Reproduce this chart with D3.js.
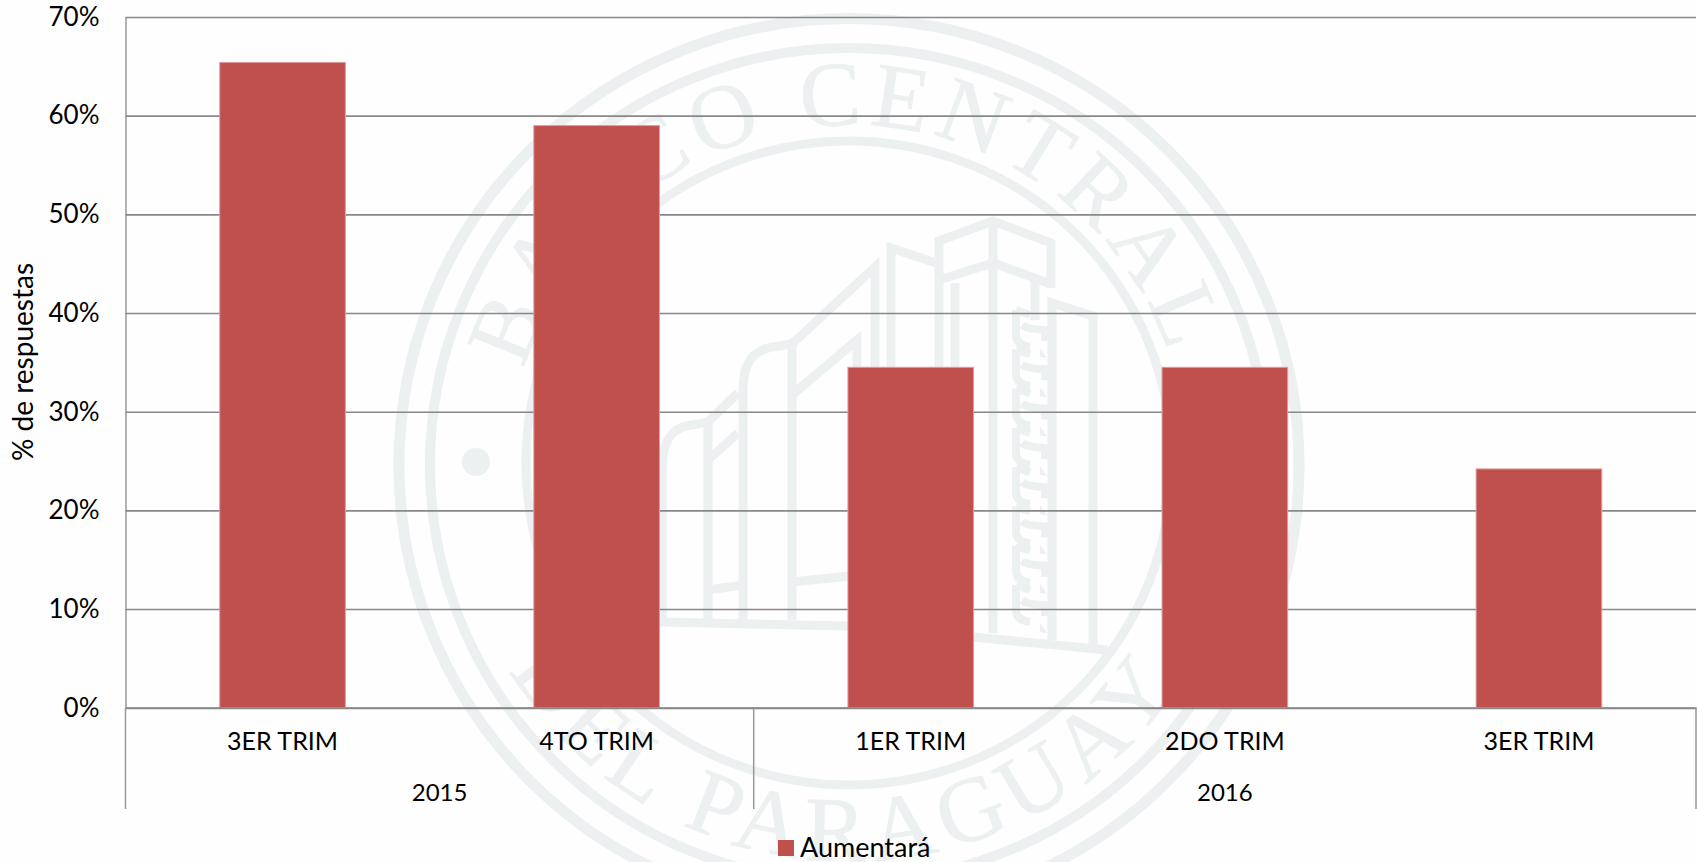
<!DOCTYPE html>
<html>
<head>
<meta charset="utf-8">
<script src="https://cdn.jsdelivr.net/npm/d3@7"></script>
<style>
html, body { margin: 0; padding: 0; background: #fefefe; }
svg { display: block; }
text { font-family: Lato, "Open Sans", sans-serif; fill: #000; }
</style>
</head>
<body>
<svg id="chart" width="1697" height="862"></svg>
<script>
'use strict';

// chart values
var periods = ['3ER TRIM', '4TO TRIM', '1ER TRIM', '2DO TRIM', '3ER TRIM'];
var values = [65.4, 59.0, 34.5, 34.5, 24.2];
var years = ['2015', '2016'];
var yearSpans = [2, 3];
var yTicks = [0, 10, 20, 30, 40, 50, 60, 70];
var seriesName = 'Aumentará';
var yTitle = '% de respuestas';

var BAR_COLOR = '#c0504d';
var GRID_COLOR = '#888888';
var SEAL_COLOR = '#ecf0f0';

var plotLeft = 125.5, plotRight = 1696, plotTop = 17, plotBottom = 707.7, catBottom = 809;

var svg = d3.select('#chart');

var x = d3.scaleBand()
    .domain(d3.range(periods.length))
    .range([plotLeft, plotRight])
    .paddingInner(0.6)
    .paddingOuter(0.3);

var y = d3.scaleLinear().domain([0, 70]).range([plotBottom, plotTop]);

// background seal of the bank, sits under everything else
drawSeal(svg.append('g').attr('class', 'seal'));

// y axis with gridlines
var yAxis = d3.axisLeft(y)
    .tickValues(yTicks)
    .tickSize(-(plotRight - plotLeft))
    .tickSizeOuter(0)
    .tickPadding(26)
    .tickFormat(function(d) { return d + '%'; });

var yG = svg.append('g')
    .attr('transform', 'translate(' + plotLeft + ',0)')
    .call(yAxis);
yG.select('.domain').attr('stroke', '#999').attr('stroke-width', 1.5);
yG.selectAll('.tick line').attr('stroke', GRID_COLOR).attr('stroke-width', 1.6);
yG.selectAll('.tick text').style('font-size', '26px').attr('fill', '#000');

// bars
svg.append('g').selectAll('rect')
    .data(values)
    .join('rect')
    .attr('x', function(d, i) { return x(i); })
    .attr('y', function(d) { return y(d); })
    .attr('width', x.bandwidth())
    .attr('height', function(d) { return y(0) - y(d); })
    .attr('fill', BAR_COLOR)
    .attr('stroke', '#dd9f9d')
    .attr('stroke-width', 1);

// x axis, first level: quarters
var xAxis = d3.axisBottom(x)
    .tickSize(0)
    .tickPadding(24.5)
    .tickFormat(function(i) { return periods[i]; });

var xG = svg.append('g')
    .attr('transform', 'translate(0,' + plotBottom + ')')
    .call(xAxis);
xG.select('.domain').attr('stroke', GRID_COLOR).attr('stroke-width', 2);
xG.selectAll('.tick text').style('font-size', '25px').attr('fill', '#000');

// x axis, second level: years and the separators between them
var yearStart = d3.cumsum([0].concat(yearSpans));
var xEdge = function(n) { return plotLeft + n * x.step(); };

svg.append('g').selectAll('line')
    .data(yearStart)
    .join('line')
    .attr('x1', function(d) { return xEdge(d); })
    .attr('x2', function(d) { return xEdge(d); })
    .attr('y1', plotBottom)
    .attr('y2', catBottom)
    .attr('stroke', '#999')
    .attr('stroke-width', 1.5);

svg.append('g').selectAll('text')
    .data(years)
    .join('text')
    .attr('x', function(d, i) { return xEdge(yearStart[i] + yearSpans[i] / 2); })
    .attr('y', 800.7)
    .attr('text-anchor', 'middle')
    .style('font-size', '24px')
    .text(function(d) { return d; });

// y title
svg.append('text')
    .attr('transform', 'translate(33,362) rotate(-90)')
    .attr('text-anchor', 'middle')
    .style('font-size', '28px')
    .text(yTitle);

// legend
svg.append('rect')
    .attr('x', 778).attr('y', 840)
    .attr('width', 16).attr('height', 16)
    .attr('fill', BAR_COLOR);
svg.append('text')
    .attr('x', 800).attr('y', 857)
    .style('font-size', '27px')
    .text(seriesName);

function drawSeal(g) {
    var cx = 849, cy = 463;

    // rx, ry, centre y, width
    [[450, 447, 465.5, 11], [419, 417, 465, 10], [323, 322, 463, 9]].forEach(function(ring) {
        g.append('ellipse')
            .attr('cx', cx).attr('cy', ring[2])
            .attr('rx', ring[0]).attr('ry', ring[1])
            .attr('fill', 'none')
            .attr('stroke', SEAL_COLOR)
            .attr('stroke-width', ring[3]);
    });

    [-373, 373].forEach(function(dx) {
        g.append('circle')
            .attr('cx', cx + dx).attr('cy', cy - 1).attr('r', 14)
            .attr('fill', SEAL_COLOR);
    });

    // lettering runs on two circular paths
    var defs = g.append('defs');
    defs.append('path').attr('id', 'sealTop')
        .attr('d', 'M' + (cx - 338) + ',' + cy + 'A338,338 0 0 1 ' + (cx + 338) + ',' + cy);
    defs.append('path').attr('id', 'sealBottom')
        .attr('d', 'M' + (cx - 398) + ',' + cy + 'A398,398 0 0 0 ' + (cx + 398) + ',' + cy);

    [['#sealTop', 'BANCO CENTRAL', 7, '49.5%'], ['#sealBottom', 'DEL PARAGUAY', 9, '49.5%']].forEach(function(t) {
        g.append('text')
            .style('font-family', '"Liberation Serif", serif')
            .style('font-size', '92px')
            .style('letter-spacing', t[2] + 'px')
            .style('fill', SEAL_COLOR)
            .style('stroke', SEAL_COLOR)
            .style('stroke-width', 0.8)
            .attr('text-anchor', 'middle')
            .append('textPath')
            .attr('href', t[0])
            .attr('startOffset', t[3])
            .text(t[1]);
    });

    // building outline
    var building = [
        'M939,620L939,241L993,221L1051,243L1051,288',
        'M939,280L993,263L1051,284',
        'M993,221L993,633',
        'M955,283L955,620',
        'M1035,280L1035,320',
        'M891,620L891,248L939,264',
        'M875,620L875,267L792,344',
        'M857,620L857,340L792,395',
        'M792,620L792,344C770,348 743,345 743,390L743,620',
        'M738,393L708,422',
        'M738,433L708,460',
        'M708,620L708,422C690,427 662,420 662,470L662,620',
        'M708,590L743,585',
        'M792,582L860,575',
        'M660,622L848,626L973,637L1107,650',
        'M1052,640L1052,303L1093,316L1093,646'
    ];
    g.append('g').selectAll('path')
        .data(building)
        .join('path')
        .attr('d', function(d) { return d; })
        .attr('fill', 'none')
        .attr('stroke', SEAL_COLOR)
        .attr('stroke-width', 9);

    // the stair column repeats the same little shape
    var steps = g.append('g').selectAll('g')
        .data(d3.range(8))
        .join('g')
        .attr('transform', function(i) { return 'translate(0,' + (39.3 * i) + ')'; });
    steps.append('path')
        .attr('d', 'M1016,310L1016,335Q1016,345 1030,347M1016,310L1030,315M1022,325Q1026,329 1045,330L1045,341')
        .attr('fill', 'none')
        .attr('stroke', SEAL_COLOR)
        .attr('stroke-width', 8);
    steps.append('path')
        .attr('d', 'M1040,348L1047,358L1040,357Z')
        .attr('fill', SEAL_COLOR);
}
</script>
</body>
</html>
